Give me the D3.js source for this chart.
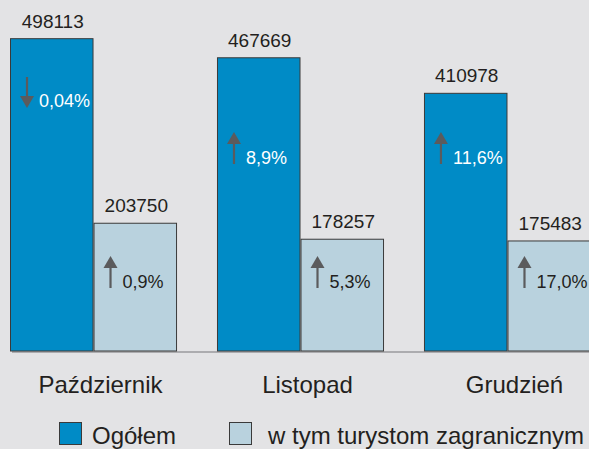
<!DOCTYPE html>
<html>
<head>
<meta charset="utf-8">
<script src="https://cdn.jsdelivr.net/npm/d3@7"></script>
<style>
  body { margin: 0; background: #e3e3e5; }
  svg { display: block; font-family: "Liberation Sans", Arial, sans-serif; }
</style>
</head>
<body>
<div id="chart"></div>
<script>
// dane z wykresu
const months = ["Październik", "Listopad", "Grudzień"];
const seriesNames = ["Ogółem", "w tym turystom zagranicznym"];
const totalValues = [498113, 467669, 410978];
const foreignValues = [203750, 178257, 175483];
const totalChange = ["0,04%", "8,9%", "11,6%"];
const foreignChange = ["0,9%", "5,3%", "17,0%"];
const totalDir = ["down", "up", "up"];
const foreignDir = ["up", "up", "up"];

const colors = ["#008bc6", "#b9d2de"];
const textColor = "#231f20";

const width = 589, height = 449;

const svg = d3.select("#chart")
    .append("svg")
    .attr("width", width)
    .attr("height", height);

svg.append("rect")
    .attr("width", width)
    .attr("height", height)
    .attr("fill", "#e3e3e5");

const x = d3.scaleBand()
    .domain(months)
    .range([10, 591])
    .paddingInner(0.193)
    .paddingOuter(0);

const xs = d3.scaleBand()
    .domain(seriesNames)
    .range([0, x.bandwidth()]);

const y = d3.scaleLinear()
    .domain([0, 500000])
    .range([351, 37.5]);

// zbudowanie tabeli słupków
const bars = [];
months.forEach((m, i) => {
    bars.push({ month: m, series: seriesNames[0], value: totalValues[i], change: totalChange[i], dir: totalDir[i], s: 0 });
    bars.push({ month: m, series: seriesNames[1], value: foreignValues[i], change: foreignChange[i], dir: foreignDir[i], s: 1 });
});

// linia bazowa
svg.append("line")
    .attr("x1", 12)
    .attr("x2", width)
    .attr("y1", y(0) + 1)
    .attr("y2", y(0) + 1)
    .attr("stroke", "#9a9a9c")
    .attr("stroke-width", 1.5);

const g = svg.selectAll("g.bar")
    .data(bars)
    .join("g")
    .attr("class", "bar")
    .attr("transform", d => `translate(${x(d.month) + xs(d.series)},0)`);

g.append("rect")
    .attr("x", 0.5)
    .attr("y", d => y(d.value))
    .attr("width", xs.bandwidth() - 1)
    .attr("height", d => y(0) - y(d.value))
    .attr("fill", d => colors[d.s])
    .attr("stroke", "#3a3a3a")
    .attr("stroke-width", 1);

// wartości nad słupkami
g.append("text")
    .attr("x", xs.bandwidth() / 2 + 1)
    .attr("y", d => y(d.value) - 11)
    .attr("text-anchor", "middle")
    .attr("font-size", 19)
    .attr("fill", textColor)
    .text(d => d.value);

// zmiana procentowa ze strzałką
const pctY = [164, 288];
const labelY = d => d.dir === "down" ? pctY[d.s] - 57 : pctY[d.s];
const arrowX = 17;

g.append("path")
    .attr("d", d => {
        const b = labelY(d);
        if (d.dir === "up") {
            const top = b - 32;
            return `M${arrowX - 7},${top + 12} L${arrowX},${top} L${arrowX + 7},${top + 12} Z`;
        }
        return `M${arrowX - 7},${b - 11} L${arrowX},${b + 1} L${arrowX + 7},${b - 11} Z`;
    })
    .attr("fill", "#5b5b5d");

g.append("line")
    .attr("x1", arrowX)
    .attr("x2", arrowX)
    .attr("y1", d => d.dir === "up" ? labelY(d) - 21 : labelY(d) - 30)
    .attr("y2", d => d.dir === "up" ? labelY(d) : labelY(d) - 10)
    .attr("stroke", "#5b5b5d")
    .attr("stroke-width", 2.2);

g.append("text")
    .attr("x", arrowX + 12)
    .attr("y", d => labelY(d))
    .attr("font-size", 18)
    .attr("fill", d => d.s === 0 ? "#ffffff" : textColor)
    .text(d => d.change);

// etykiety miesięcy
svg.selectAll("text.month")
    .data(months)
    .join("text")
    .attr("class", "month")
    .attr("x", d => x(d) + x.bandwidth() / 2 + 7)
    .attr("y", 393)
    .attr("text-anchor", "middle")
    .attr("font-size", 24)
    .attr("fill", textColor)
    .text(d => d);

// legenda
const legendX = [59, 229];
const legend = svg.selectAll("g.legend")
    .data(seriesNames)
    .join("g")
    .attr("class", "legend")
    .attr("transform", (d, i) => `translate(${legendX[i]},422)`);

legend.append("rect")
    .attr("x", 0.5)
    .attr("y", 0.5)
    .attr("width", 22)
    .attr("height", 22)
    .attr("fill", (d, i) => colors[i])
    .attr("stroke", "#3a3a3a");

legend.append("text")
    .attr("x", (d, i) => i === 0 ? 33 : 39)
    .attr("y", 22)
    .attr("font-size", 24)
    .attr("fill", textColor)
    .text(d => d);
</script>
</body>
</html>
